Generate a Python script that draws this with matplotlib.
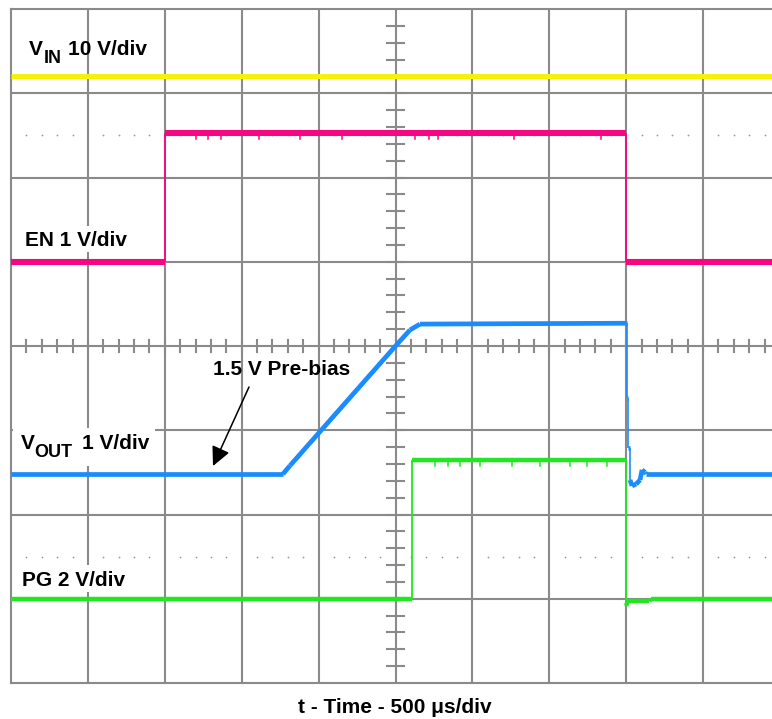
import matplotlib
matplotlib.use("Agg")
import matplotlib.pyplot as plt
from matplotlib.patches import Rectangle

plt.rcParams['font.family'] = ['Liberation Sans', 'DejaVu Sans']

# time axis: 500 us/div, 10 div; traces in volts, shown as offset + V / (V/div)
vin_t = [0, 5000]
vin_v = [12.0, 12.0]

en_t = [0, 1000, 1000, 4000, 4000, 5000]
en_v = [0.0, 0.0, 1.53, 1.53, 0.0, 0.0]
en_glitch_t = [1203, 1281, 1365, 1612, 1879, 2152, 2627, 2718, 2776, 3270, 3836]

vout_t = [0, 1768, 1814, 2500, 2594, 2659, 3999, 4005, 4005, 4012, 4012,
          4025, 4025, 4038, 4064, 4090, 4103, 4122, 4129, 5000]
vout_v = [1.48, 1.48, 1.58, 3.0, 3.19, 3.26, 3.27, 3.27, 2.38, 2.38, 1.79,
          1.79, 1.41, 1.34, 1.36, 1.41, 1.53, 1.50, 1.48, 1.48]

pg_t = [0, 2610, 2610, 4000, 4000, 4008, 4150, 4160, 5000]
pg_v = [0.0, 0.0, 3.3, 3.3, -0.17, -0.06, -0.06, 0.0, 0.0]
pg_glitch_t = [2757, 2841, 2919, 3049, 3257, 3439, 3635, 3745, 3875]

# channel offset (div) and scale (V/div)
channels = {
    "vin": (6.0, 10.0),
    "en": (5.0, 1.0),
    "vout": (1.0, 1.0),
    "pg": (1.0, 2.0),
}

GRID = "#8a8a8a"


def to_div(values, ch):
    off, scale = channels[ch]
    return [off + v / scale for v in values]


def px(x, y):
    """image pixel -> data coords"""
    return (x - 11) / 76.9 * 500, (683 - y) / 84.25


def trace(ax, t, v, color, lw, lw_edge=1.3):
    # flat / sloped parts thick, vertical edges thin
    for i in range(len(t) - 1):
        w = lw_edge if t[i] == t[i + 1] else lw
        ax.plot(t[i:i + 2], v[i:i + 2], color=color, lw=w,
                solid_capstyle="butt", zorder=3)


fig = plt.figure(figsize=(7.72, 7.19), dpi=100)
ax = fig.add_axes([11 / 772, 36 / 719, 769 / 772, 674 / 719])
ax.set_xlim(0, 5000)
ax.set_ylim(0, 8)
ax.set_xticks([])
ax.set_yticks([])
for s in ax.spines.values():
    s.set_color(GRID)
    s.set_linewidth(1.5)

# graticule
for k in range(1, 10):
    ax.axvline(k * 500, color=GRID, lw=1.5, zorder=1)
for k in range(1, 8):
    ax.axhline(k, color=GRID, lw=1.5, zorder=1)
for k in range(1, 40):
    y = k * 0.2
    ax.plot([2500 - 55, 2500 + 55], [y, y], color=GRID, lw=1.5, zorder=1)
for k in range(1, 50):
    x = k * 100
    ax.plot([x, x], [4 - 0.077, 4 + 0.077], color=GRID, lw=1.5, zorder=1)

# ground marker dots
dot_x = [k * 100 for k in range(1, 50) if k % 5]
for lev in (6.5, 1.5):
    ax.plot(dot_x, [lev] * len(dot_x), ls="none", marker="o", ms=1.3,
            color="#9a9a9a", mec="none", zorder=1.5)

# white boxes behind labels
for (x0, y0, x1, y1) in [(13, 226, 158, 252), (13, 428, 155, 466),
                         (13, 565, 130, 592)]:
    a = px(x0, y1)
    b = px(x1, y0)
    ax.add_patch(Rectangle(a, b[0] - a[0], b[1] - a[1], fc="white",
                           ec="none", zorder=2))

trace(ax, vin_t, to_div(vin_v, "vin"), "#f2f20a", 3.6)
trace(ax, en_t, to_div(en_v, "en"), "#f5077f", 4.4)
trace(ax, vout_t, to_div(vout_v, "vout"), "#1a8cff", 3.4, 1.2)
trace(ax, pg_t, to_div(pg_v, "pg"), "#20e820", 3.2)

en_hi = to_div([1.53], "en")[0]
for t in en_glitch_t:
    ax.plot([t, t], [en_hi, en_hi - 0.075], color="#f5077f", lw=1.1, zorder=3)
pg_hi = to_div([3.3], "pg")[0]
for t in pg_glitch_t:
    ax.plot([t, t], [pg_hi, pg_hi - 0.07], color="#20e820", lw=1.1, zorder=3)

# labels
kw = dict(fontweight="bold", color="black", va="baseline", ha="left", zorder=5)
ax.text(*px(29, 55), "V", fontsize=15, **kw)
ax.text(*px(44, 63), "IN", fontsize=13, **kw)
ax.text(*px(68, 55), "10 V/div", fontsize=15, **kw)
ax.text(*px(25, 246), "EN 1 V/div", fontsize=15, **kw)
ax.text(*px(21, 449), "V", fontsize=15, **kw)
ax.text(*px(34, 457), "OUT", fontsize=13, **kw)
ax.text(*px(82, 449), "1 V/div", fontsize=15, **kw)
ax.text(*px(22, 586), "PG 2 V/div", fontsize=15, **kw)
ax.text(*px(213, 375), "1.5 V Pre-bias", fontsize=15, **kw)

ax.annotate("", xy=px(213, 466), xytext=px(249, 387),
            arrowprops=dict(arrowstyle="-|>,head_length=0.45,head_width=0.22",
                            color="black", lw=1.1, mutation_scale=26,
                            shrinkA=0, shrinkB=0), zorder=5)

fig.text(395 / 772, 1 - 713 / 719, "t - Time - 500 \u03bcs/div", fontsize=15,
         fontweight="bold", color="black", ha="center", va="baseline")

fig.savefig("out.png", dpi=100)
